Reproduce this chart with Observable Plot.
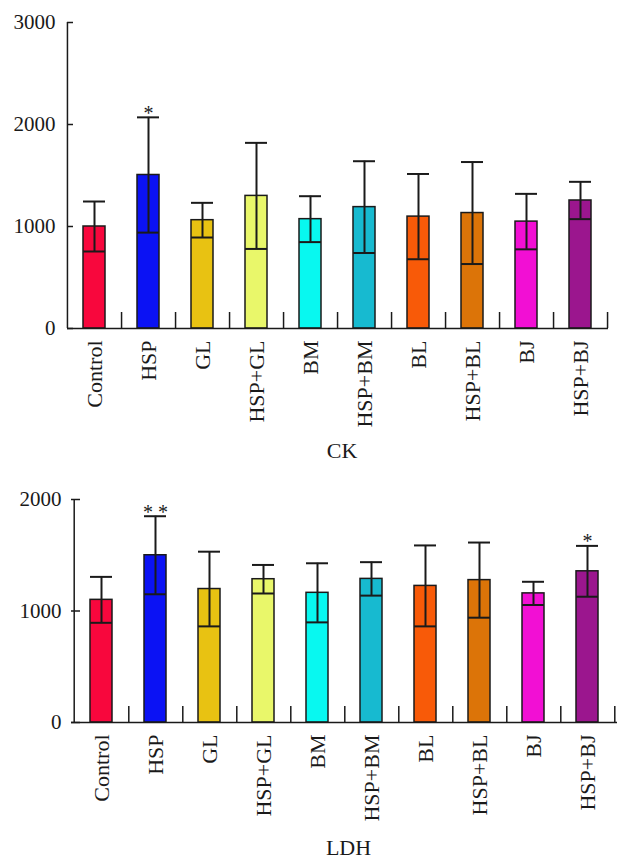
<!DOCTYPE html>
<html>
<head>
<meta charset="utf-8">
<script src="https://cdn.jsdelivr.net/npm/d3@7"></script>
<script src="https://cdn.jsdelivr.net/npm/@observablehq/plot@0.6"></script>
<style>
  html, body { margin: 0; padding: 0; background: #fff; }
  #chart { width: 632px; }
  #chart svg { display: block; }
</style>
</head>
<body>
<div id="chart"></div>
<script>
const categories = ["Control","HSP","GL","HSP+GL","BM","HSP+BM","BL","HSP+BL","BJ","HSP+BJ"];
const colors = ["#f8073d","#0b12f4","#e8c212","#e9f76a","#08f8f0","#17bad0","#f85a08","#dc7408","#f20fd4","#9b168e"];

const ckMean = [1000,1505,1062,1300,1072,1190,1097,1132,1048,1255];
const ckSD   = [245,565,170,520,225,450,418,500,272,183];
const ckSig  = ["","*","","","","","","","",""];
const ckTicks = [0,1000,2000,3000];

const ldhMean = [1100,1500,1197,1285,1163,1288,1225,1277,1158,1356];
const ldhSD   = [206,350,335,128,265,150,363,337,104,228];
const ldhSig  = ["","* *","","","","","","","","*"];
const ldhTicks = [0,1000,2000];

const FONT = "'Liberation Serif', 'Times New Roman', serif";
const INK = "#1a1a1a";

function panel({mean, sd, sig, ticks, title, height, marginTop, marginBottom, marginLeft, marginRight, tickPadding, titleDy, innerTick}) {
  const width = 632;
  const data = categories.map((c, i) => ({cat: c, mean: mean[i], lo: mean[i] - sd[i], hi: mean[i] + sd[i], sig: sig[i]}));
  const frameW = width - marginLeft - marginRight;
  const step = frameW / categories.length;
  const yMax = ticks[ticks.length - 1];
  return Plot.plot({
    width, height, marginTop, marginBottom, marginLeft, marginRight,
    style: {fontFamily: FONT, background: "white", color: INK},
    x: {domain: categories, paddingInner: 0.59, paddingOuter: 0.295, label: null},
    y: {domain: [0, yMax], label: null},
    color: {domain: categories, range: colors},
    marks: [
      Plot.barY(data, {x: "cat", y: "mean", fill: "cat", stroke: INK, strokeWidth: 1.5}),
      Plot.ruleX(data, {x: "cat", y1: "lo", y2: "hi", stroke: INK, strokeWidth: 2}),
      Plot.tickY(data, {x: "cat", y: "hi", stroke: INK, strokeWidth: 2}),
      Plot.tickY(data, {x: "cat", y: "lo", stroke: INK, strokeWidth: 2}),
      Plot.text(data.filter(d => d.sig), {x: "cat", y: "hi", text: "sig", dy: -4, fontSize: 20, fill: INK, lineAnchor: "middle"}),
      // separator ticks at band boundaries
      Plot.ruleX(categories, {x: d => d, dx: step / 2, y1: 0, y2: 0, insetBottom: 16, stroke: INK, strokeWidth: 1.5}),
      // baseline and y axis line
      Plot.ruleY([0], {stroke: INK, strokeWidth: 1.5}),
      Plot.ruleX([categories[0]], {dx: -step / 2, y1: 0, y2: yMax, stroke: INK, strokeWidth: 1.5}),
      // inward y ticks
      Plot.ruleY(ticks, {insetRight: frameW - innerTick, stroke: INK, strokeWidth: 1.5}),
      Plot.axisY({ticks, tickSize: 0, tickPadding, fontSize: 21, tickFormat: d => String(d), label: null}),
      Plot.axisX({tickSize: 0, tickPadding: 12, tickRotate: -90, fontSize: 22, label: null}),
      Plot.text([title], {frameAnchor: "bottom", dy: titleDy, fontSize: 22, fill: INK, dx: 4})
    ]
  });
}

const chart = document.getElementById("chart");
chart.append(panel({
  mean: ckMean, sd: ckSD, sig: ckSig, ticks: ckTicks, title: "CK",
  height: 480, marginTop: 22, marginBottom: 152, marginLeft: 67, marginRight: 24,
  tickPadding: 12, titleDy: 129, innerTick: 6
}));
chart.append(panel({
  mean: ldhMean, sd: ldhSD, sig: ldhSig, ticks: ldhTicks, title: "LDH",
  height: 384, marginTop: 19, marginBottom: 142, marginLeft: 71, marginRight: 15,
  tickPadding: 10, titleDy: 132, innerTick: 9
}));
</script>
</body>
</html>
